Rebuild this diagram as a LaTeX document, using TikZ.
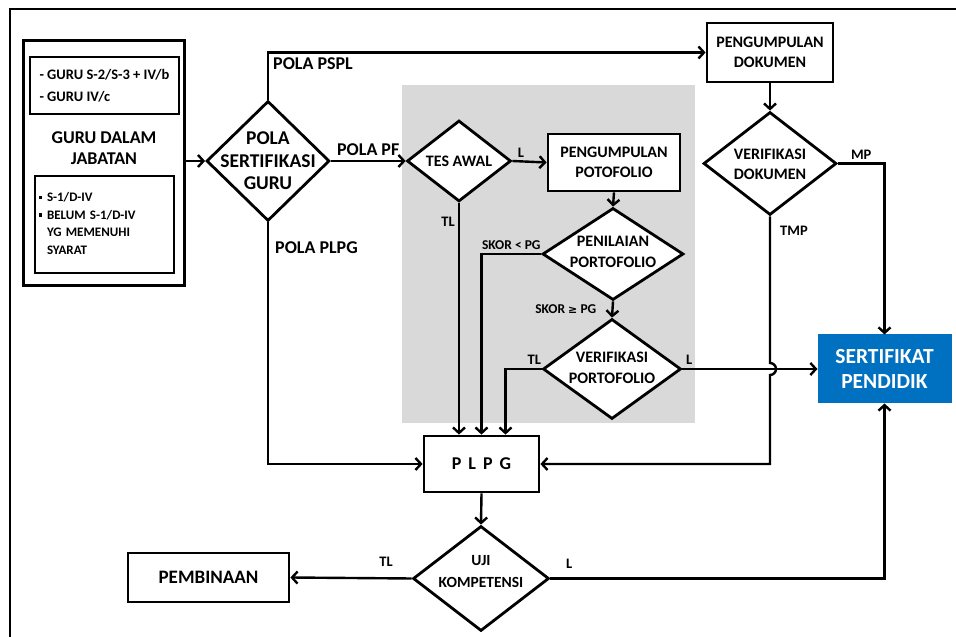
\documentclass[tikz,border=0pt]{standalone}
\usepackage{fontspec}
\setmainfont{Carlito}
\newfontfamily\symfont{DejaVu Sans}
\usepackage{xcolor}
\usetikzlibrary{shapes.geometric, arrows.meta, positioning}
\definecolor{sertblue}{HTML}{0070C0}
\newcommand{\bul}{\rule[2.5pt]{3.5pt}{3.5pt}}

\begin{document}
\begin{tikzpicture}[x=1pt, y=1pt, >={Straight Barb[length=5.5pt,width=12pt]}]
    \tikzstyle{process} = [rectangle, draw, line width=2.8pt, inner sep=0pt, align=center, fill=white, font=\fontsize{16}{20.5}\selectfont\bfseries]
    \tikzstyle{decision} = [diamond, draw, line width=2.8pt, inner sep=0pt, fill=white]
    \tikzstyle{inside} = [align=center, inner sep=0pt, font=\fontsize{16}{20.5}\selectfont\bfseries]
    \tikzstyle{bigtext} = [align=center, inner sep=0pt, font=\fontsize{18}{21.5}\selectfont\bfseries]
    \tikzstyle{conn} = [draw, line width=2.4pt]
    \tikzstyle{flow} = [conn, ->]
    \tikzstyle{tag} = [font=\fontsize{14.5}{16}\selectfont\bfseries, inner sep=3pt]
    \tikzstyle{smalltag} = [font=\fontsize{13.5}{15}\selectfont\bfseries, inner sep=3pt]

    \useasboundingbox (0,0) rectangle (956,637);

    % Frame and portfolio area
    \draw [line width=2.2pt] (10,0) -- (10,628) -- (956,628);
    \fill [gray!30] (402,214) rectangle (695,552);

    % Teachers
    \node [process, line width=3pt, minimum width=161pt, minimum height=245pt] (guru) at (103.5,473.5) {};
    \node [process, minimum width=149pt, minimum height=57pt, align=left, font=\fontsize{14.5}{22}\selectfont\bfseries] (golongan) at (104.5,551.5) {- GURU S-2/S-3 + IV/b\\- GURU IV/c};
    \node [bigtext] (guru_txt) at (104,489) {GURU DALAM\\JABATAN};
    \node [process, minimum width=139pt, minimum height=97pt, text width=132pt, inner xsep=3.5pt, align=left, font=\fontsize{13}{17.5}\selectfont\bfseries] (ijazah) at (104.5,412.5) {\begin{tabular}{@{}l@{\hspace{5pt}}l@{}}\bul & S-1/D-IV\\ \bul & BELUM S-1/D-IV\\ & YG MEMENUHI\\ & SYARAT\end{tabular}};

    % Pola sertifikasi
    \node [decision, minimum width=123pt, minimum height=120pt] (pola) at (268,476) {};
    \node [bigtext, font=\fontsize{19.5}{22.5}\selectfont\bfseries] (pola_txt) at (pola) {POLA\\SERTIFIKASI\\GURU};

    % Pola PF
    \node [decision, minimum width=104pt, minimum height=81pt] (tesawal) at (459,476) {};
    \node [inside] (tesawal_txt) at (tesawal) {TES AWAL};
    \node [process, minimum width=132pt, minimum height=57pt] (pengport) at (614,474.5) {PENGUMPULAN\\POTOFOLIO};
    \node [decision, minimum width=141pt, minimum height=92pt] (penilaian) at (613,383) {};
    \node [inside, yshift=2pt] (penilaian_txt) at (penilaian) {PENILAIAN\\PORTOFOLIO};
    \node [decision, minimum width=138pt, minimum height=100pt] (verifport) at (612,268) {};
    \node [inside, yshift=1pt] (verifport_txt) at (verifport) {VERIFIKASI\\PORTOFOLIO};

    % Pola PSPL
    \node [process, minimum width=126pt, minimum height=59pt] (pengdok) at (770,584.5) {PENGUMPULAN\\DOKUMEN};
    \node [decision, minimum width=133pt, minimum height=103pt] (verifdok) at (770,473.5) {};
    \node [inside, yshift=-1pt] (verifdok_txt) at (verifdok) {VERIFIKASI\\DOKUMEN};

    % Pola PLPG
    \node [process, minimum width=115pt, minimum height=56pt, font=\fontsize{18}{20}\selectfont\bfseries] (plpg) at (481.5,173) {\spaceskip=7pt P L P G};
    \node [decision, minimum width=136pt, minimum height=105pt] (uji) at (481,58.5) {};
    \node [inside, yshift=7pt, font=\fontsize{15.5}{22}\selectfont\bfseries] (uji_txt) at (uji) {UJI\\KOMPETENSI};
    \node [process, minimum width=161pt, minimum height=49pt, font=\fontsize{19}{20}\selectfont\bfseries] (pembinaan) at (208.5,59.5) {PEMBINAAN};

    % Result
    \node [process, fill=sertblue, draw=sertblue, line width=1pt, text=white, minimum width=133pt, minimum height=68pt, font=\fontsize{21.5}{25.5}\selectfont\bfseries] (sertifikat) at (884.5,268) {SERTIFIKAT\\PENDIDIK};

    % Connections
    \draw [flow] (guru.east |- pola) -- (pola.west);
    \draw [flow] (pola.north) |- node [bigtext, pos=0.5, below right, inner sep=4pt] {POLA PSPL} (pengdok.west);
    \draw [flow] (pola.east) -- node [bigtext, above, inner sep=4pt] {POLA PF} (tesawal.west);
    \draw [flow] (pola.south) |- node [bigtext, pos=0.053, right, inner sep=6pt] {POLA PLPG} (plpg.west);

    \draw [flow] (tesawal.east) -- node [tag, pos=0.25, above] {L} (pengport.west);
    \draw [flow] (tesawal.south) -- node [tag, pos=0.08, left] {TL} (tesawal.south |- plpg.north);
    \draw [flow] (pengport.south) -- (penilaian.north);
    \draw [flow] (penilaian.west) -| node [smalltag, pos=0.25, above] {SKOR < PG} (plpg.north);
    \draw [flow] (penilaian.south) -- node [smalltag, left=12pt] {SKOR {\symfont\fontsize{11}{13}\selectfont ≥} PG} (verifport.north);
    \draw [flow] (verifport.west) -| node [tag, pos=0.1, above] {TL} ([xshift=24pt]plpg.north);
    \draw [flow] (verifport.east) -- node [tag, pos=0.05, above] {L} (sertifikat.west);

    \draw [flow] (pengdok.south) -- (verifdok.north);
    \draw [flow] (verifdok.east) -| node [tag, pos=0.25, above] {MP} (sertifikat.north);
    \coordinate (hop) at (verifdok.south |- sertifikat.west);
    \draw [flow] (verifdok.south) -- node [tag, pos=0.1, right=6pt] {TMP} ([yshift=6pt]hop) arc [start angle=90, end angle=-90, radius=6pt] |- (plpg.east);

    \draw [flow] (plpg.south) -- (uji.north);
    \draw [flow] (uji.west) -- node [tag, pos=0.21, above=8pt] {TL} (pembinaan.east);
    \draw [flow] (uji.east) -| node [tag, pos=0.028, above=6pt] {L} (sertifikat.south);
\end{tikzpicture}
\end{document}
